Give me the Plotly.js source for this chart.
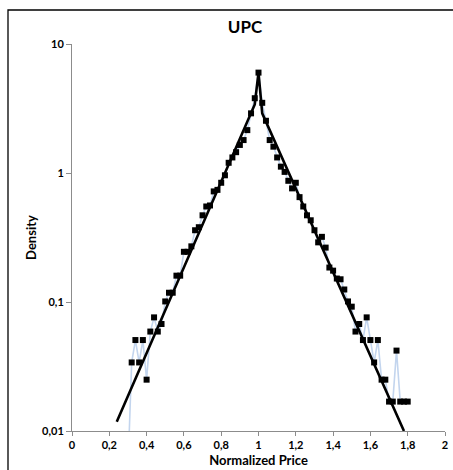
<!DOCTYPE html>
<html>
<head>
<meta charset="utf-8">
<script src="https://cdn.plot.ly/plotly-3.0.1.min.js"></script>
<style>html,body{margin:0;padding:0;background:#fff;}#chart{width:453px;height:470px;}</style>
</head>
<body>
<div id="chart"></div>
<script>
// Observed histogram (normalized price bins, density)
const priceBins = [0.30,0.32,0.34,0.36,0.38,0.40,0.42,0.44,0.46,0.48,0.50,0.52,0.54,0.56,0.58,0.60,0.62,0.64,0.66,0.68,0.70,0.72,0.74,0.76,0.78,0.80,0.82,0.84,0.86,0.88,0.90,0.92,0.94,0.96,0.98,1.00,1.02,1.04,1.06,1.08,1.10,1.12,1.14,1.16,1.18,1.20,1.22,1.24,1.26,1.28,1.30,1.32,1.34,1.36,1.38,1.40,1.42,1.44,1.46,1.48,1.50,1.52,1.54,1.56,1.58,1.60,1.62,1.64,1.66,1.68,1.70,1.72,1.74,1.76,1.78,1.80];
const densityObs = [0.005,0.034,0.0507,0.034,0.0507,0.025,0.059,0.076,0.059,0.0675,0.101,0.118,0.118,0.16,0.16,0.245,0.245,0.27,0.36,0.38,0.47,0.55,0.56,0.72,0.74,0.84,0.96,1.2,1.32,1.45,1.65,1.8,2.15,2.9,3.8,6.0,3.5,2.54,1.8,1.6,1.32,1.12,1.02,0.87,0.76,0.84,0.65,0.55,0.47,0.43,0.36,0.29,0.32,0.264,0.185,0.175,0.152,0.150,0.125,0.101,0.092,0.059,0.0675,0.0507,0.076,0.0507,0.034,0.0507,0.025,0.025,0.0169,0.0169,0.042,0.0169,0.0169,0.0169];
// Fitted curve
const fitX = [0.24,0.98,1.00,1.02,1.78];
const fitY = [0.0118,3.4,6.0,2.9,0.01];
// Tick labels
const xTickVals = [0,0.2,0.4,0.6,0.8,1,1.2,1.4,1.6,1.8,2];
const xTickText = ["0","0,2","0,4","0,6","0,8","1","1,2","1,4","1,6","1,8","2"];
const yTickVals = [0.01,0.1,1,10];
const yTickText = ["0,01","0,1","1","10"];

const FONT = "Lato, 'Open Sans', sans-serif";
const data = [
  {x: priceBins, y: densityObs, type: 'scatter', mode: 'lines+markers',
   line: {color: '#c3d5ee', width: 1.6},
   marker: {symbol: 'square', size: 6, color: '#000'}, hoverinfo: 'skip'},
  {x: fitX, y: fitY, type: 'scatter', mode: 'lines',
   line: {color: '#000', width: 2.6}, hoverinfo: 'skip'}
];
const layout = {
  width: 453, height: 470,
  margin: {l: 72, r: 8, t: 44, b: 39},
  paper_bgcolor: '#fff', plot_bgcolor: '#fff',
  showlegend: false,
  font: {family: FONT, color: '#000'},
  title: {text: '<b>UPC</b>', x: 245/453, xref: 'container', xanchor: 'center',
          y: 1 - 27/470, yref: 'container', yanchor: 'middle',
          font: {family: FONT, size: 17, color: '#000'}},
  xaxis: {range: [0, 2], tickvals: xTickVals, ticktext: xTickText,
          showgrid: false, zeroline: false, showline: true, linecolor: '#8c8c8c', linewidth: 1,
          ticks: 'outside', ticklen: 4, tickcolor: '#8c8c8c',
          tickfont: {family: FONT, size: 11, color: '#000', weight: 'bold'},
          title: {text: '<b>Normalized Price</b>', standoff: 5, font: {family: FONT, size: 13, color: '#000'}}},
  yaxis: {type: 'log', range: [-2, 1], tickvals: yTickVals, ticktext: yTickText,
          showgrid: false, zeroline: false, showline: true, linecolor: '#8c8c8c', linewidth: 1,
          ticks: 'outside', ticklen: 5, tickcolor: '#8c8c8c',
          tickfont: {family: FONT, size: 11, color: '#000', weight: 'bold'},
          title: {text: '<b>Density</b>', standoff: 2, font: {family: FONT, size: 13, color: '#000'}}},
  shapes: [{type: 'rect', xref: 'paper', yref: 'paper', x0: -64/373, x1: 1.5, y0: -0.5, y1: 421/387,
            line: {color: '#000', width: 1.3}, fillcolor: 'rgba(0,0,0,0)', layer: 'below'}]
};
Plotly.newPlot('chart', data, layout, {staticPlot: true, displayModeBar: false});
</script>
</body>
</html>
